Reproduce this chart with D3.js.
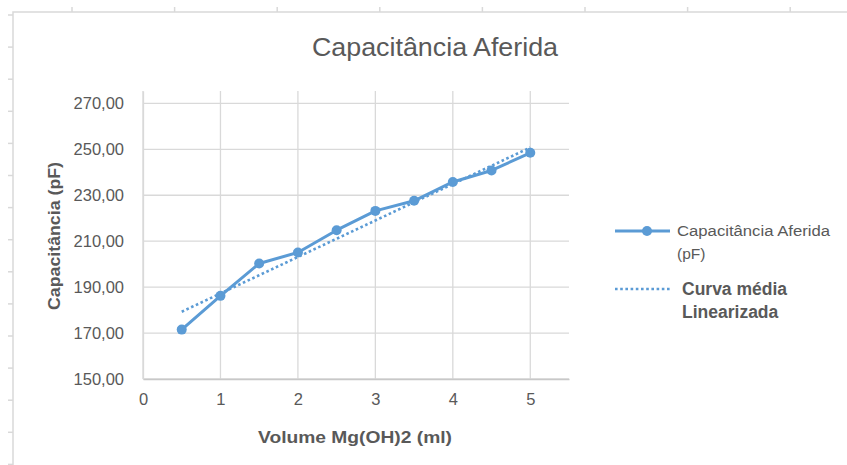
<!DOCTYPE html>
<html>
<head>
<meta charset="utf-8">
<script src="https://cdn.jsdelivr.net/npm/d3@7/dist/d3.min.js"></script>
<style>
  body { margin: 0; background: #fff; }
  text { font-family: "Liberation Sans", Arial, sans-serif; fill: #595959; }
</style>
</head>
<body>
<div id="chart-container"></div>
<script>
// data
var volumes = [0.5, 1, 1.5, 2, 2.5, 3, 3.5, 4, 4.5, 5];
var capacitance = [171.5, 186.2, 200.3, 205.1, 214.8, 223.2, 227.6, 235.8, 240.8, 248.5];
var trendVolumes = [0.5, 5];
var trendCapacitance = [179.3, 250.8];
var xTicks = [0, 1, 2, 3, 4, 5];
var yTicks = [150, 170, 190, 210, 230, 250, 270];
var seriesNames = ["Capacitância Aferida", "(pF)"];
var trendNames = ["Curva média", "Linearizada"];

var svgWidth = 847, svgHeight = 465;
var plot = { left: 143, right: 569, top: 91, bottom: 379 };
var blue = "#5B9BD5";

var svg = d3.select("#chart-container")
    .append("svg")
    .attr("width", svgWidth)
    .attr("height", svgHeight);

// spreadsheet cell ticks peeking around the chart frame
var frame = svg.append("g").attr("stroke", "#d9d9d9").attr("stroke-width", 1.5);
d3.range(72, svgWidth, 102.6).forEach(function (cx) {
    frame.append("line").attr("x1", cx).attr("x2", cx).attr("y1", 7).attr("y2", 12);
});
d3.range(15, svgHeight + 1, 32.1).forEach(function (cy) {
    frame.append("line").attr("x1", 8).attr("x2", 13).attr("y1", cy).attr("y2", cy);
});
frame.append("path")
    .attr("fill", "none")
    .attr("d", "M13," + svgHeight + "V12H" + svgWidth);

var x = d3.scaleLinear().domain([0, 5.5]).range([plot.left, plot.right]);
var y = d3.scaleLinear().domain([150, 275.4]).range([plot.bottom, plot.top]);

var ptBR = d3.formatLocale({ decimal: ",", thousands: ".", grouping: [3], currency: ["", ""] });
var fmt = ptBR.format(".2f");

// gridlines
svg.append("g")
    .selectAll("line")
    .data(yTicks)
    .enter()
    .append("line")
    .attr("x1", plot.left)
    .attr("x2", plot.right)
    .attr("y1", function (d) { return y(d); })
    .attr("y2", function (d) { return y(d); })
    .attr("stroke", "#d9d9d9")
    .attr("stroke-width", 1.3);

svg.append("g")
    .selectAll("line")
    .data(xTicks)
    .enter()
    .append("line")
    .attr("x1", function (d) { return x(d); })
    .attr("x2", function (d) { return x(d); })
    .attr("y1", plot.top)
    .attr("y2", plot.bottom)
    .attr("stroke", "#d9d9d9")
    .attr("stroke-width", 1.3);

// bottom axis
var xAxis = d3.axisBottom(x).tickValues(xTicks).tickSize(0).tickPadding(14).tickFormat(d3.format("d"));
var gx = svg.append("g")
    .attr("transform", "translate(0," + plot.bottom + ")")
    .call(xAxis);
gx.select(".domain").attr("stroke", "#c8c8c8").attr("stroke-width", 1.5);
gx.selectAll("text").attr("font-size", 16.5).attr("fill", "#595959");

// left axis
var yAxis = d3.axisLeft(y).tickValues(yTicks).tickSize(0).tickPadding(19).tickFormat(fmt);
var gy = svg.append("g")
    .attr("transform", "translate(" + plot.left + ",0)")
    .call(yAxis);
gy.select(".domain").attr("stroke", "#d9d9d9").attr("stroke-width", 1.3);
gy.selectAll("text").attr("font-size", 16.5).attr("fill", "#595959");

// trend line
var valueline = d3.line()
    .x(function (d) { return x(d[0]); })
    .y(function (d) { return y(d[1]); });

svg.append("path")
    .datum(d3.zip(trendVolumes, trendCapacitance))
    .attr("fill", "none")
    .attr("stroke", blue)
    .attr("stroke-width", 2.6)
    .attr("stroke-dasharray", "2.6,2.6")
    .attr("d", valueline);

// measured series
var points = d3.zip(volumes, capacitance);
svg.append("path")
    .datum(points)
    .attr("fill", "none")
    .attr("stroke", blue)
    .attr("stroke-width", 3)
    .attr("stroke-linejoin", "round")
    .attr("d", valueline);

svg.append("g")
    .selectAll("circle")
    .data(points)
    .enter()
    .append("circle")
    .attr("cx", function (d) { return x(d[0]); })
    .attr("cy", function (d) { return y(d[1]); })
    .attr("r", 5)
    .attr("fill", blue);

// title
svg.append("text")
    .attr("x", 435)
    .attr("y", 56)
    .attr("text-anchor", "middle")
    .attr("font-size", 25)
    .attr("textLength", 246)
    .attr("lengthAdjust", "spacingAndGlyphs")
    .text("Capacitância Aferida");

// axis titles
svg.append("text")
    .attr("x", 355)
    .attr("y", 443)
    .attr("text-anchor", "middle")
    .attr("font-size", 17)
    .attr("font-weight", "bold")
    .attr("textLength", 194)
    .attr("lengthAdjust", "spacingAndGlyphs")
    .text("Volume Mg(OH)2 (ml)");

svg.append("text")
    .attr("transform", "translate(60,236) rotate(-90)")
    .attr("text-anchor", "middle")
    .attr("font-size", 16)
    .attr("font-weight", "bold")
    .attr("textLength", 148)
    .attr("lengthAdjust", "spacingAndGlyphs")
    .text("Capacitância (pF)");

// legend
var legend = svg.append("g");
legend.append("line")
    .attr("x1", 615).attr("x2", 670).attr("y1", 231).attr("y2", 231)
    .attr("stroke", blue).attr("stroke-width", 3);
legend.append("circle")
    .attr("cx", 647).attr("cy", 231).attr("r", 5).attr("fill", blue);
legend.append("text")
    .attr("x", 677).attr("y", 236)
    .attr("font-size", 15.5)
    .selectAll("tspan")
    .data(seriesNames)
    .enter()
    .append("tspan")
    .attr("x", 677)
    .attr("dy", function (d, i) { return i === 0 ? 0 : 22.5; })
    .attr("textLength", function (d, i) { return i === 0 ? 153 : null; })
    .attr("lengthAdjust", "spacingAndGlyphs")
    .text(function (d) { return d; });

legend.append("line")
    .attr("x1", 615).attr("x2", 670).attr("y1", 289).attr("y2", 289)
    .attr("stroke", blue).attr("stroke-width", 2.6).attr("stroke-dasharray", "2.6,2.6");
legend.append("text")
    .attr("x", 682).attr("y", 295)
    .attr("font-size", 17.5)
    .attr("font-weight", "bold")
    .selectAll("tspan")
    .data(trendNames)
    .enter()
    .append("tspan")
    .attr("x", 682)
    .attr("dy", function (d, i) { return i === 0 ? 0 : 22.5; })
    .text(function (d) { return d; });
</script>
</body>
</html>
